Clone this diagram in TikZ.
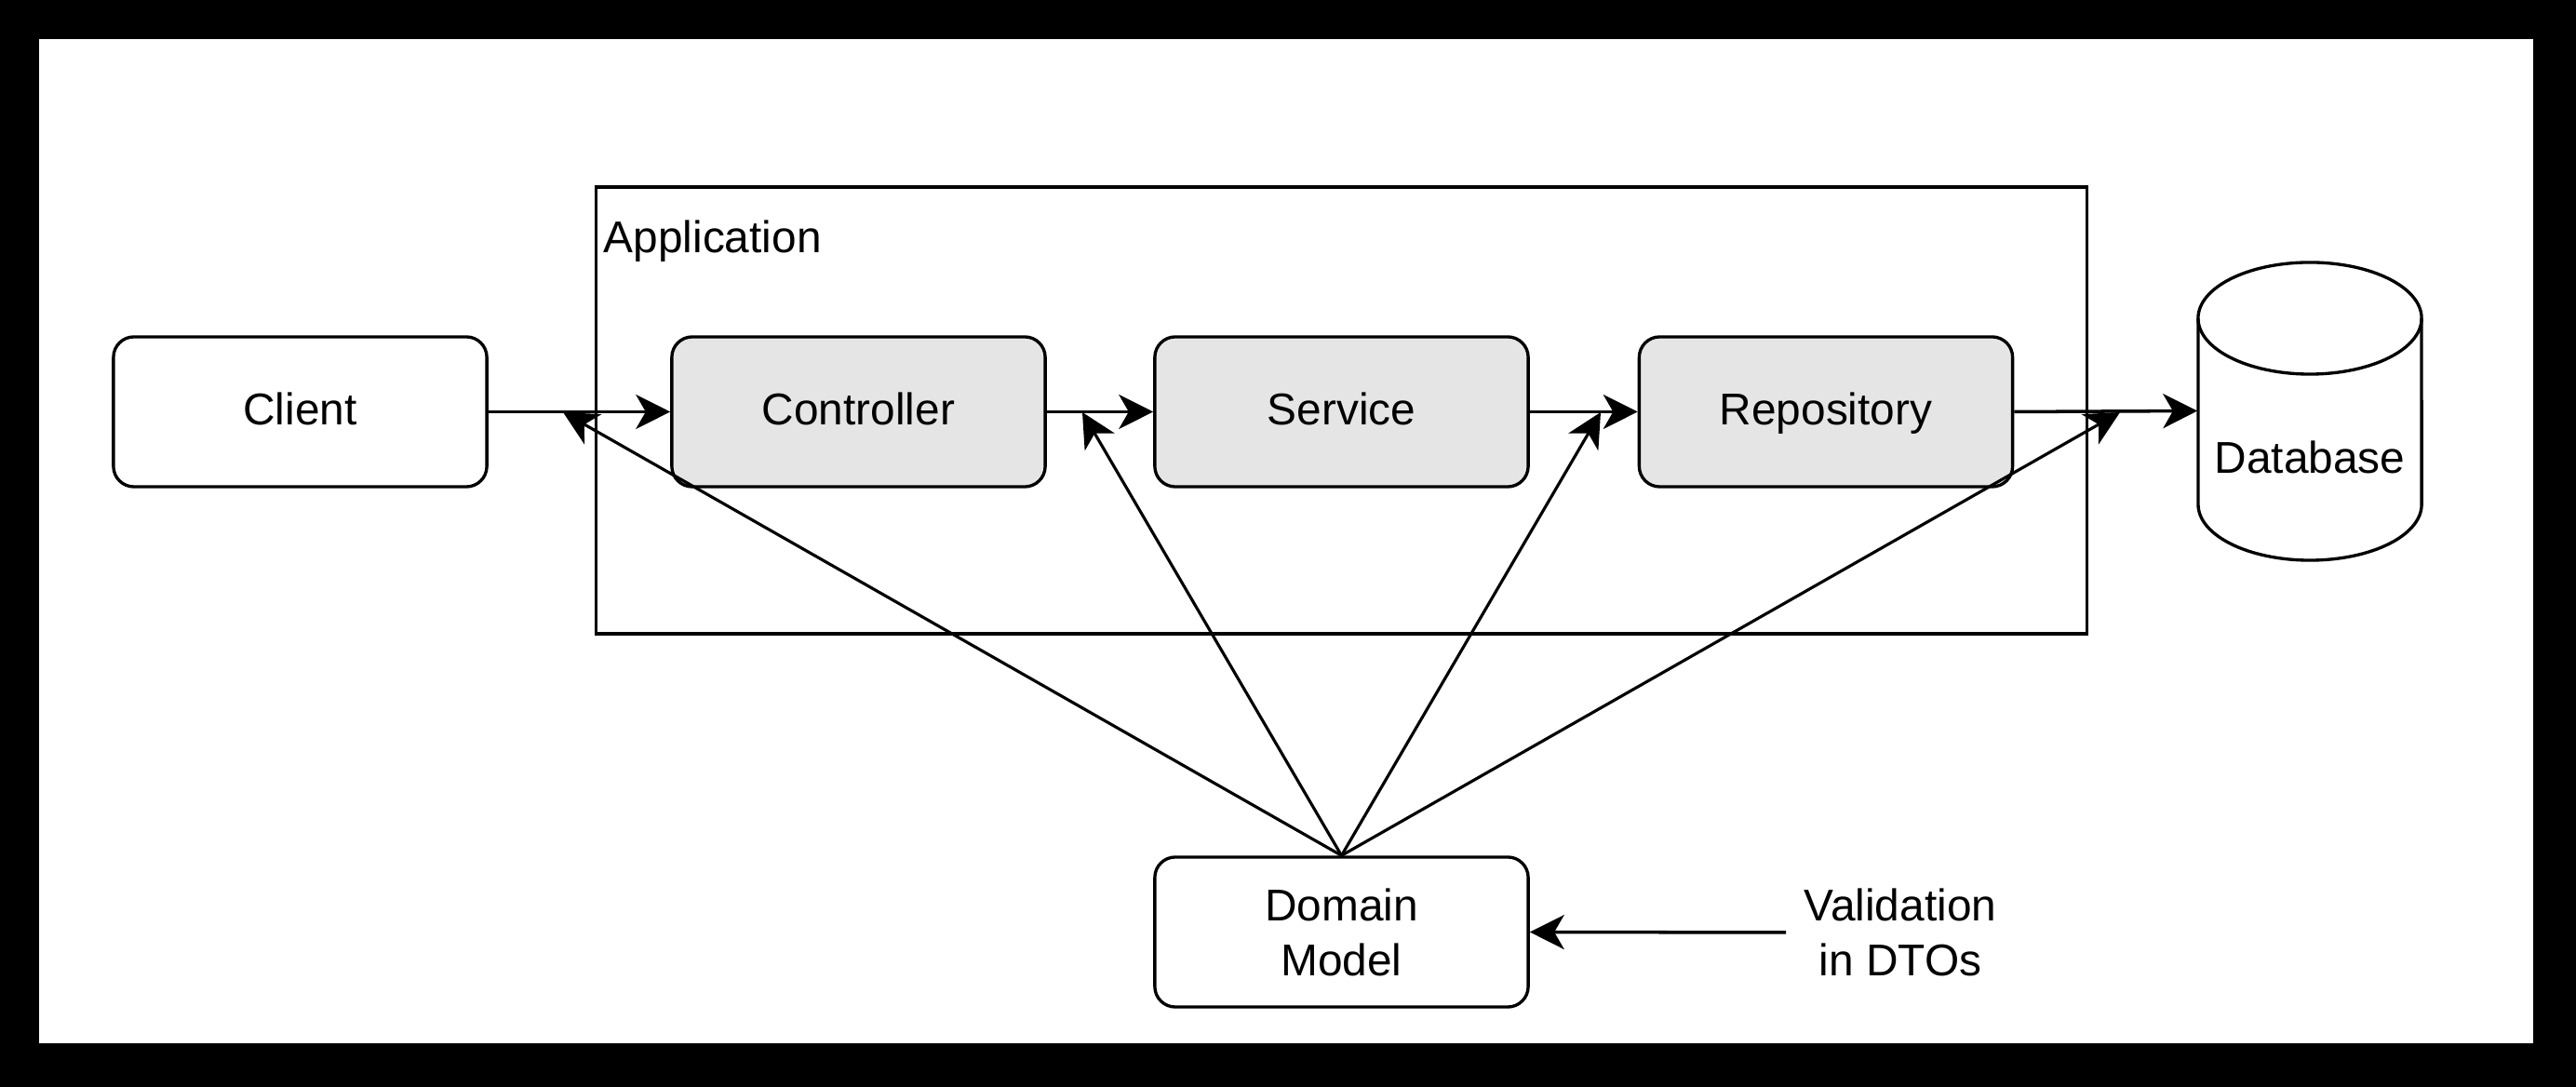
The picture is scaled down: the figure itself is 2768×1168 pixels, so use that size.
\documentclass[tikz,border=0pt]{standalone}
\usepackage{fontspec}
\setmainfont{Liberation Sans}
\usetikzlibrary{arrows.meta}
\begin{document}
\begin{tikzpicture}[x=0.01cm,y=-0.01cm,
  every node/.style={font=\fontsize{13.6pt}{16.8pt}\selectfont},
  box/.style={draw,line width=0.95pt,rounded corners=0.22cm,minimum width=4.01cm,minimum height=1.61cm,inner sep=0pt,align=center},
  oneline/.style={text height=10pt,text depth=2.3pt},
  layer/.style={box,oneline,fill=black!10},
  frame/.style={draw,line width=0.95pt,minimum width=16.01cm,minimum height=4.80cm,inner sep=0pt},
  conn/.style={line width=1pt,-{Stealth[length=10.5pt,width=10.5pt,inset=3pt]}},
  diag/.style={line width=0.9pt,-{Stealth[length=10.5pt,width=10.5pt,inset=3pt]}}]
\useasboundingbox (0,0) rectangle (2768,1168);
\fill[black] (0,0) rectangle (2768,1168);
\fill[white] (42,42) rectangle (2722,1121);
% application frame
\node[frame] (app) at (1441.5,441) {};
\node[anchor=base west,inner sep=0pt] (applbl) at (648,272) {Application};
% boxes
\node[box,oneline] (client) at (322.5,442.5) {Client};
\node[layer] (ctrl) at (922.5,442.5) {Controller};
\node[layer] (svc) at (1441.5,442.5) {Service};
\node[layer] (repo) at (1962,442.5) {Repository};
\node[box] (dm) at (1441.5,1001.5) {Domain\\Model};
\node[inner sep=0.19cm,align=center] (val) at (2042,1002) {Validation\\in DTOs};
% database cylinder
\node[minimum width=2.40cm,minimum height=3.21cm,inner sep=0pt] (db) at (2482,441.5) {};
\draw[line width=0.95pt] (2362,342) -- (2362,542) arc[start angle=180,end angle=360,x radius=1.2cm,y radius=0.6cm] -- (2602,342);
\draw[line width=0.95pt] (2482,342) ellipse [x radius=1.2cm,y radius=0.6cm];
\node[oneline] (dbl) at (2482,495) {Database};
% connectors
\draw[conn] (client.east) -- (ctrl.west);
\draw[conn] (ctrl.east) -- (svc.west);
\draw[conn] (svc.east) -- (repo.west);
\draw[conn] (repo.east) -- (db.west);
\draw[conn] (val.west) -- (dm.east);
\coordinate (m1) at (605,443);
\coordinate (m2) at (1163,443);
\coordinate (m3) at (1720,443);
\coordinate (m4) at (2278,443);
\draw[diag] (dm.north) -- (m1);
\draw[diag] (dm.north) -- (m2);
\draw[diag] (dm.north) -- (m3);
\draw[diag] (dm.north) -- (m4);
\end{tikzpicture}
\end{document}
